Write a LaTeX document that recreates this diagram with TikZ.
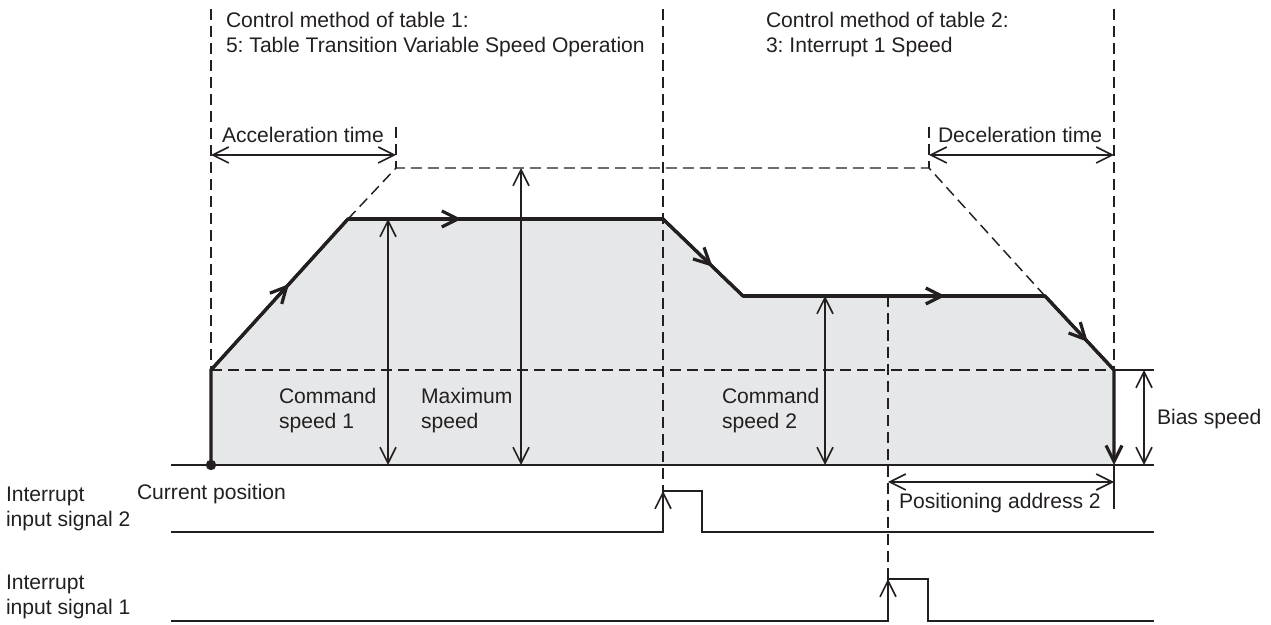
\documentclass[tikz,border=0pt]{standalone}
\usepackage{fontspec}
\setmainfont{Liberation Sans}
\frenchspacing
\usetikzlibrary{arrows.meta,decorations.markings}
\definecolor{ink}{HTML}{231F20}
\definecolor{area}{HTML}{E6E7E8}
\begin{document}
\begin{tikzpicture}[x=0.5pt,y=-0.5pt,
  font=\fontsize{10.55}{12.75}\selectfont,
  every node/.style={text=ink, inner sep=0pt, outer sep=0pt},
  barb/.tip={Straight Barb[length=8pt,width=8pt]},
  thinline/.style={draw=ink, line width=0.8pt},
  guide/.style={draw=ink, line width=0.72pt, dash pattern=on 5.5pt off 3pt},
  profile/.style={draw=ink, line width=1.6pt, line join=miter},
  dimarrow/.style={thinline, barb-barb},
  flowmark/.style={postaction={decorate, decoration={markings,
      mark=at position #1 with {\arrow[line width=1.6pt]{barb}}}}},
  lbl/.style={anchor=base west, align=left},
]
\useasboundingbox (0,0) rectangle (1271,625);

% speed profile corners
\coordinate (p0) at (211,465);
\coordinate (p1) at (211,370);
\coordinate (p2) at (348,219);
\coordinate (p3) at (663,219);
\coordinate (p4) at (743,296);
\coordinate (p5) at (1045,296);
\coordinate (p6) at (1114,370);
\coordinate (p7) at (1114,465);
\coordinate (amax) at (396,168);
\coordinate (dmax) at (929,168);

% shaded travel area
\fill[area] (p0) -- (p1) -- (p2) -- (p3) -- (p4) -- (p5) -- (p6) -- (p7) -- cycle;

% dashed guide lines
\draw[guide] (211,9) -- (p1);
\draw[guide] (663,9) -- (663,491);
\draw[guide] (1114,9) -- (p6);
\draw[guide] (p1) -- (p6);
\draw[guide] (p2) -- (amax) -- (dmax) -- (p5);
\draw[guide] (396,127) -- (amax);
\draw[guide] (929,127) -- (dmax);
\draw[guide] (888,296) -- (888,579);

% axis and reference lines
\draw[thinline] (171,465) -- (1154,465);
\draw[thinline] (p6) -- (1154,370);
\draw[thinline] (p7) -- (1114,509);

% dimension arrows
\draw[dimarrow] (211,155) -- (396,155);
\draw[dimarrow] (929,155) -- (1114,155);
\draw[dimarrow] (388,219) -- (388,465);
\draw[dimarrow] (521,168) -- (521,465);
\draw[dimarrow] (825,296) -- (825,465);
\draw[dimarrow] (1144,370) -- (1144,465);
\draw[dimarrow] (888,482) -- (1114,482);

% speed profile
\draw[profile, -{Straight Barb[length=8pt,width=8pt]}] (p0) -- (p1) -- (p2) -- (p3) -- (p4) -- (p5) -- (p6) -- (p7);
\draw[profile, flowmark=0.57] (p1) -- (p2);
\draw[profile, flowmark=0.36] (p2) -- (p3);
\draw[profile, flowmark=0.62] (p3) -- (p4);
\draw[profile, flowmark=0.67] (p4) -- (p5);
\draw[profile, flowmark=0.62] (p5) -- (p6);
\fill[ink] (p0) circle[radius=2.6pt];

% interrupt signals
\draw[thinline] (171,532) -- (663,532) -- (663,491) -- (702,491) -- (702,532) -- (1154,532);
\draw[thinline, -barb] (663,532) -- (663,491);
\draw[thinline] (171,621) -- (888,621) -- (888,579) -- (928,579) -- (928,621) -- (1154,621);
\draw[thinline, -barb] (888,621) -- (888,579);

% labels (two-line labels are anchored at the baseline of their last line)
\node[lbl] (ctl1) at (226,53) {Control method of table 1:\\5: Table Transition Variable Speed Operation};
\node[lbl] (ctl2) at (766,53) {Control method of table 2:\\3: Interrupt 1 Speed};
\node[lbl] (acc) at (222,143) {Acceleration time};
\node[lbl] (dec) at (938,143) {Deceleration time};
\node[lbl] (cs1) at (279,429) {Command\\speed 1};
\node[lbl] (mx) at (421,429) {Maximum\\speed};
\node[lbl] (cs2) at (722,429) {Command\\speed 2};
\node[lbl] (bias) at (1157,425) {Bias speed};
\node[lbl] (cur) at (137,500) {Current position};
\node[lbl] (pos) at (899,509) {Positioning address 2};
\node[lbl] (int2) at (6,527) {Interrupt\\input signal 2};
\node[lbl] (int1) at (6,615) {Interrupt\\input signal 1};
\end{tikzpicture}
\end{document}
